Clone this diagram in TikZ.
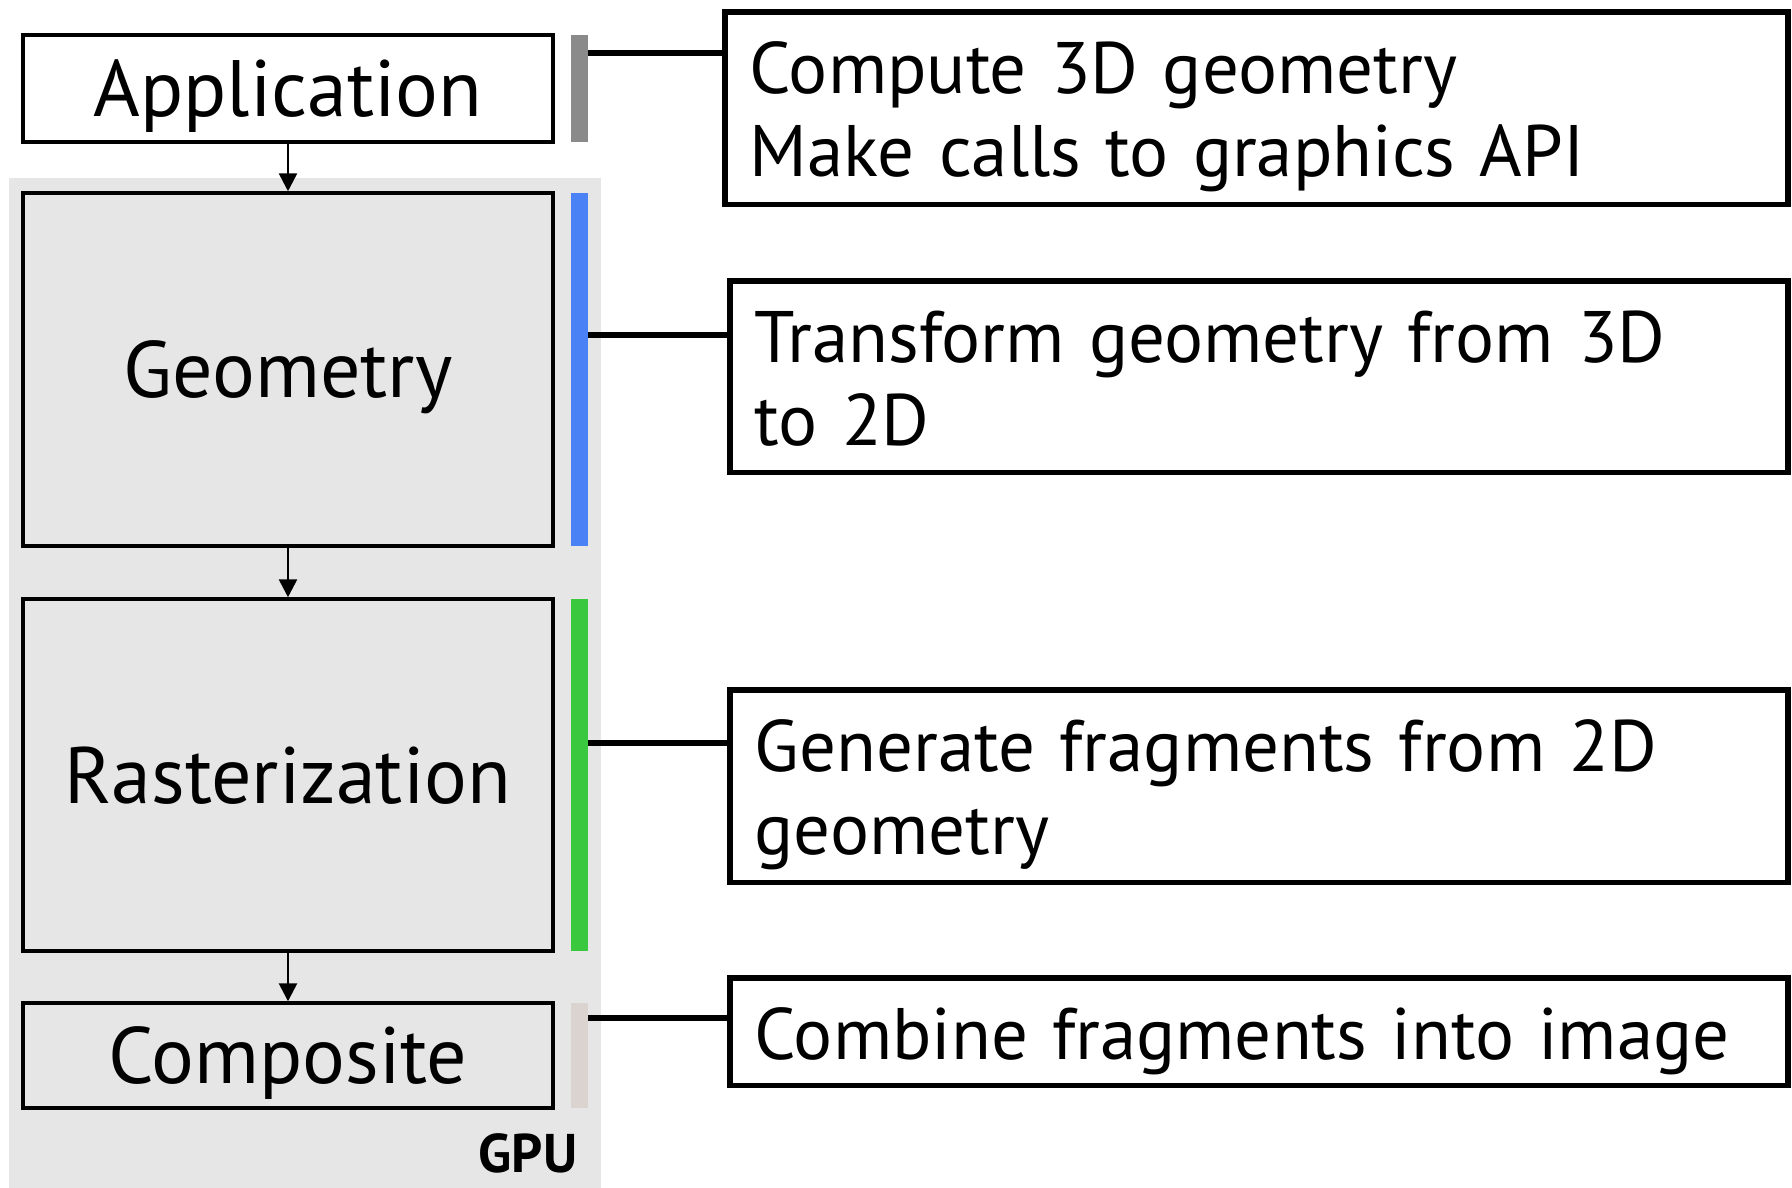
\documentclass[tikz,border=0pt]{standalone}
\usepackage{fontspec}
\setmainfont{PT Sans}
\usetikzlibrary{positioning,arrows.meta}

\definecolor{gpugray}{HTML}{E6E6E6}
\definecolor{appgray}{HTML}{8A8A8A}
\definecolor{geoblue}{HTML}{4A82F5}
\definecolor{rasgreen}{HTML}{3AC83E}
\definecolor{compsand}{HTML}{DBD3CF}

\begin{document}
\begin{tikzpicture}[node distance=1cm,
  stage/.style={draw,line width=2pt,minimum width=10.6cm,inner sep=0pt,text height=41pt,text depth=9pt,font=\fontsize{45.5}{50}\selectfont},
  bar/.style={minimum width=0.34cm,inner sep=0pt,outer sep=0pt},
  note/.style={draw,line width=3.2pt,anchor=north west,inner xsep=0.5cm,inner ysep=0pt,text height=1.64cm,align=left,font=\fontsize{41.5}{47}\selectfont},
  flow/.style={line width=1.5pt,-{Triangle[length=0.36cm,width=0.36cm]}},
  link/.style={line width=3.2pt}]
\useasboundingbox (0,0) rectangle (35.84,-23.76);
\fill[gpugray] (0.18,-3.56) rectangle (12.02,-23.76);

\node[stage, minimum height=2.14cm] (app) at (5.76,-1.77) {Application};
\node[stage, fill=gpugray, minimum height=7.06cm, below=0.95cm of app] (geo) {Geometry};
\node[stage, fill=gpugray, minimum height=7.04cm, below=0.99cm of geo] (ras) {Rasterization};
\node[stage, fill=gpugray, minimum height=2.1cm, below=0.97cm of ras] (comp) {Composite};
\node[font=\bfseries\fontsize{31}{31}\selectfont] (gpu) at (10.56,-23.06) {GPU};

\node[bar, fill=appgray, minimum height=2.14cm, right=0.32cm of app] (appbar) {};
\node[bar, fill=geoblue, minimum height=7.06cm, right=0.32cm of geo] (geobar) {};
\node[bar, fill=rasgreen, minimum height=7.04cm, right=0.32cm of ras] (rasbar) {};
\node[bar, fill=compsand, minimum height=2.1cm, right=0.32cm of comp] (compbar) {};

\node[note, text width=20.26cm, text depth=2.21cm] (desc1) at (14.44,-0.18) {Compute 3D geometry\\Make calls to graphics API};
\node[note, text width=20.16cm, text depth=2.19cm] (desc2) at (14.54,-5.56) {Transform geometry from 3D\\to 2D};
\node[note, text width=20.16cm, text depth=2.21cm] (desc3) at (14.54,-13.74) {Generate fragments from 2D\\geometry};
\node[note, text width=20.16cm, text depth=0.51cm] (desc4) at (14.54,-19.5) {Combine fragments into image};

\path[draw,flow] (app) -- (geo);
\path[draw,flow] (geo) -- (ras);
\path[draw,flow] (ras) -- (comp);

\coordinate (h1) at (0,-1.06);
\coordinate (h2) at (0,-6.7);
\coordinate (h3) at (0,-14.86);
\coordinate (h4) at (0,-20.36);
\path[draw,link] (appbar.east |- h1) -- (desc1.west |- h1);
\path[draw,link] (geobar.east |- h2) -- (desc2.west |- h2);
\path[draw,link] (rasbar.east |- h3) -- (desc3.west |- h3);
\path[draw,link] (compbar.east |- h4) -- (desc4.west |- h4);
\end{tikzpicture}
\end{document}
